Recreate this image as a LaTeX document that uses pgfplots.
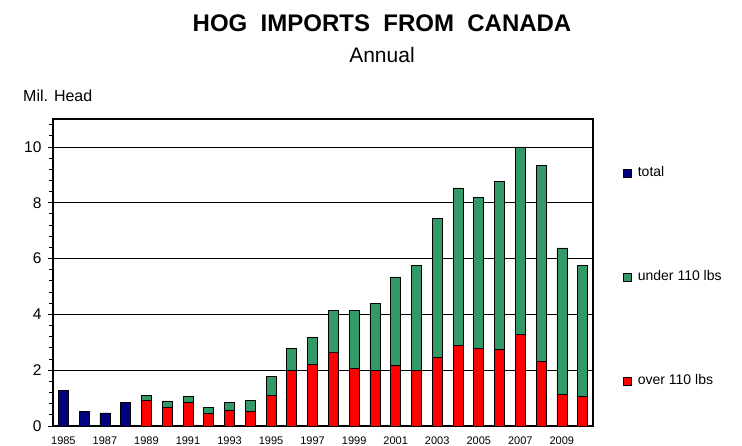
\documentclass[border=0pt]{standalone}
\usepackage{pgfplots}
\pgfplotsset{compat=1.18}
\usepackage{pgfplotstable}
\usepackage{fontspec}
\setmainfont{Liberation Sans}
\definecolor{hognavy}{HTML}{000080}
\definecolor{hoggreen}{HTML}{339966}
\definecolor{hogred}{HTML}{FF0000}
\pgfplotstableread{
x total over under
0 1.26 0 0
1 0.53 0 0
2 0.47 0 0
3 0.85 0 0
4 0 0.91 0.19
5 0 0.68 0.22
6 0 0.84 0.21
7 0 0.46 0.22
8 0 0.56 0.29
9 0 0.53 0.40
10 0 1.09 0.69
11 0 2.00 0.78
12 0 2.22 0.95
13 0 2.65 1.49
14 0 2.05 2.09
15 0 2.00 2.38
16 0 2.17 3.17
17 0 1.98 3.77
18 0 2.47 4.97
19 0 2.90 5.63
20 0 2.78 5.41
21 0 2.73 6.02
22 0 3.29 6.71
23 0 2.32 7.03
24 0 1.14 5.24
25 0 1.05 4.70
}\hogdata
\begin{document}
\begin{tikzpicture}
\useasboundingbox (0,0) rectangle (742bp,446bp);
\node[anchor=base, font=\fontsize{24bp}{28bp}\selectfont\bfseries] at (382bp,414bp) {HOG\ \ IMPORTS\ \ FROM\ \ CANADA};
\node[anchor=base, font=\fontsize{21bp}{25bp}\selectfont] at (382bp,383bp) {Annual};
\node[anchor=base west, inner sep=0pt, font=\fontsize{16bp}{19bp}\selectfont] at (23bp,344bp) {Mil. Head};
\begin{axis}[
  at={(53bp,20bp)}, anchor=south west,
  scale only axis, width=540bp, height=307bp,
  ybar stacked, bar width=10bp,
  xmin=-0.5, xmax=25.5, ymin=0, ymax=11,
  axis line style={line width=1.3bp},
  tick align=outside, xtick pos=bottom, ytick pos=left,
  major tick length=5bp, minor tick length=4bp,
  tick style={black, line width=0.8bp},
  xtick={0,2,...,24},
  xticklabels={1985,1987,1989,1991,1993,1995,1997,1999,2001,2003,2005,2007,2009},
  xtick style={draw=none},
  minor xtick={-0.5,0.5,...,25.5},
  ytick={0,2,...,10},
  minor ytick={0.4,0.8,...,10.8},
  ymajorgrids, grid style={black, line width=0.6bp},
  /pgf/number format/assume math mode=true,
  yticklabel style={font=\fontsize{15.5bp}{18bp}\selectfont, xshift=-3bp},
  xticklabel style={font=\fontsize{11bp}{13bp}\selectfont, yshift=-2.5bp},
  every axis plot/.append style={draw=black, line width=0.7bp},
  legend image code/.code={\draw[#1, line width=0.6bp] (0bp,-4bp) rectangle (8bp,4bp);},
  legend style={draw=none, fill=none, inner sep=0pt,
    at={(axis description cs:1.0556,0.485)}, anchor=west,
    font=\fontsize{14bp}{16bp}\selectfont,
    nodes={inner sep=1bp, text height=10bp, text depth=3bp},
    /tikz/every odd column/.append style={column sep=5bp},
    row sep=89bp},
  legend cell align=left,
]
\addplot[fill=hognavy, forget plot] table[x=x, y=total] {\hogdata};
\addplot[fill=hogred, forget plot] table[x=x, y=over] {\hogdata};
\addplot[fill=hoggreen, forget plot] table[x=x, y=under] {\hogdata};
\addlegendimage{fill=hognavy, draw=black}
\addlegendentry{total}
\addlegendimage{fill=hoggreen, draw=black}
\addlegendentry{under 110 lbs}
\addlegendimage{fill=hogred, draw=black}
\addlegendentry{over 110 lbs}
\end{axis}
\end{tikzpicture}
\end{document}
